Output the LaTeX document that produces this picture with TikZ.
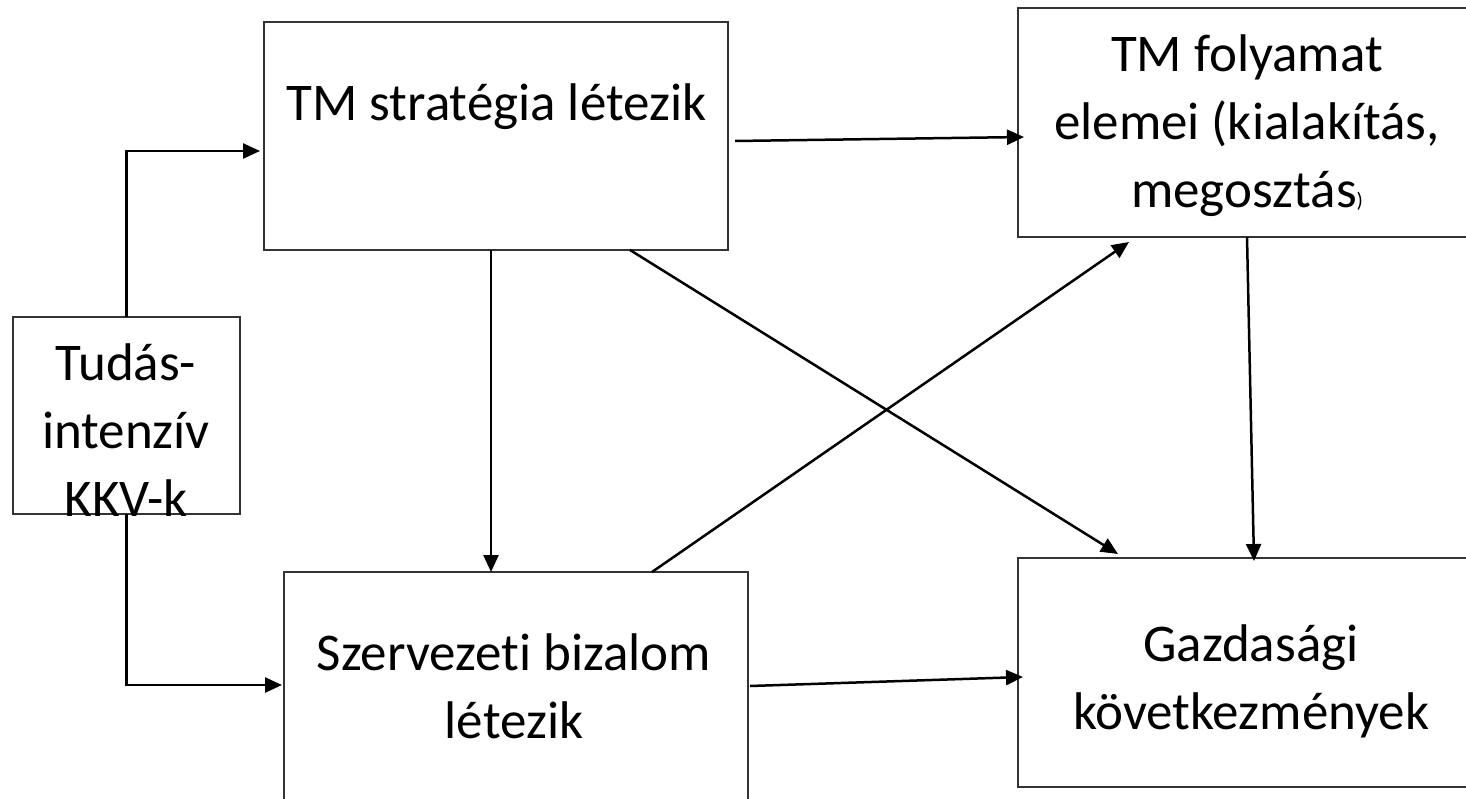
\documentclass[tikz,border=0pt]{standalone}
\usepackage{fontspec}
\setmainfont{Carlito}[Ligatures=NoCommon]
\usetikzlibrary{arrows.meta,calc}

\begin{document}
\begin{tikzpicture}[x=1pt,y=-1pt,
  box/.style={draw=black!80, line width=1.7pt, rectangle, inner sep=0pt, outer sep=0pt},
  lbl/.style={font=\fontsize{53}{68}\selectfont, align=center, inner sep=0pt},
  conn/.style={line width=2.5pt, -{Triangle[length=17pt,width=15pt]}}
]
\useasboundingbox (0,0) rectangle (1466,799);

% boxes
\node[box, minimum width=464pt, minimum height=228pt] (A) at (496,136) {};
\node[box, minimum width=462pt, minimum height=229pt] (B) at (1249,122.5) {};
\node[box, minimum width=227pt, minimum height=197pt] (C) at (126.5,415.5) {};
\node[box, minimum width=464pt, minimum height=258pt] (D) at (516,701) {};
\node[box, minimum width=466pt, minimum height=229pt] (E) at (1251,672.5) {};

% box texts
\node[lbl, anchor=base] (tA) at (496.5,121) {TM stratégia létezik};
\node[lbl] (tB) at (1247,126) {TM folyamat\\elemei (kialakítás,\\megosztás{\fontsize{21}{21}\selectfont )}};
\node[lbl] (tC) at (126,430) {Tudás-\\intenzív\\KKV-k};
\node[lbl] (tD) at (514,686) {Szervezeti bizalom\\létezik};
\node[lbl] (tE) at (1251,681) {Gazdasági\\következmények};

% connectors
\draw[conn] (C.north) |- ($(A.west)+(-4,15)$);
\draw[conn] (C.south) |- ($(D.west)+(-2,-16)$);
\draw[conn] ($(A.south)+(-5,0)$) -- ($(D.north)+(-25,0)$);
\draw[conn] ($(A.east)+(7,5)$) -- ($(B.west)+(6,14.5)$);
\draw[conn] ($(A.south)+(134,0)$) -- ($(E.north)+(-133,-4)$);
\draw[conn] ($(D.north)+(136,0)$) -- ($(B.south)+(-120,5)$);
\draw[conn] ($(B.south)+(-2,0)$) -- ($(E.north)+(3,3)$);
\draw[conn] ($(D.east)+(2,-15)$) -- ($(E.west)+(5,4.5)$);
\end{tikzpicture}
\end{document}
